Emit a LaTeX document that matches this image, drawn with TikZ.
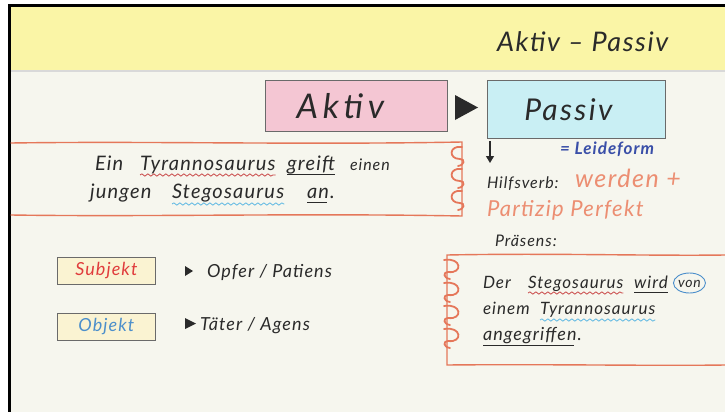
\documentclass[tikz,border=0pt]{standalone}
\usepackage{fontspec}
\newfontfamily\hand{Lato}[LetterSpace=6]
\newfontfamily\handwide{Lato}[LetterSpace=14]
\newfontfamily\handmid{Lato}[LetterSpace=8]
\usetikzlibrary{decorations.pathmorphing,arrows.meta}
\definecolor{bg}{HTML}{F6F6EE}
\definecolor{band}{HTML}{FAF5A6}
\definecolor{pinkbox}{HTML}{F4C6D3}
\definecolor{cyanbox}{HTML}{C9EFF4}
\definecolor{framec}{HTML}{E5775A}
\definecolor{salmon}{HTML}{EC8E72}
\definecolor{leide}{HTML}{3A4FA8}
\definecolor{subjfill}{HTML}{FAF3D2}
\definecolor{subjred}{HTML}{E03C3C}
\definecolor{objblue}{HTML}{4C8FCB}
\definecolor{wavered}{HTML}{C94848}
\definecolor{waveblue}{HTML}{5EB8E2}
\definecolor{ink}{HTML}{2A2A2A}
\tikzset{
  word/.style={font=\hand\itshape\fontsize{20}{20}\selectfont, text=ink, inner sep=0pt, outer sep=0pt, anchor=base west},
  rword/.style={word, font=\hand\itshape\fontsize{17}{17}\selectfont},
  small/.style={word, font=\hand\itshape\fontsize{16}{16}\selectfont},
  bigbox/.style={draw=ink!70, line width=0.8pt, inner sep=0pt, anchor=north west, text=ink},
  tagbox/.style={draw=ink!70, line width=0.8pt, fill=subjfill, minimum width=98pt, minimum height=27pt, inner sep=0pt, anchor=north west, font=\hand\itshape\fontsize{18}{18}\selectfont},
  frameline/.style={draw=framec, line width=1.4pt, line cap=round},
  curl/.style={draw=framec, line width=1.8pt, line cap=round},
  redwave/.style={draw=wavered, line width=0.8pt, decorate, decoration={snake, amplitude=1.1pt, segment length=6pt}},
  bluewave/.style={draw=waveblue, line width=0.8pt, decorate, decoration={snake, amplitude=1.1pt, segment length=6pt}},
  uline/.style={draw=ink, line width=0.9pt},
  marker/.style={fill=ink}
}
\begin{document}
\begin{tikzpicture}[x=1pt,y=-1pt]
\useasboundingbox (0,0) rectangle (725,412);
% background and board frame
\fill[bg] (0,0) rectangle (725,412);
\fill[white] (0,0) rectangle (8,412);
\fill[white] (0,0) rectangle (725,4);
\fill[band] (11,7) rectangle (725,70);
\draw[black!15, line width=2pt] (11,71) -- (725,71);
\fill[black] (8,4) rectangle (11,412);
\fill[black] (8,4) rectangle (725,7);

% title
\node[word, font=\hand\itshape\fontsize{27}{27}\selectfont] (title) at (497,52) {Aktiv – Passiv};

% main boxes
\node[bigbox, fill=pinkbox, minimum width=182pt, minimum height=51pt, font=\handwide\itshape\fontsize{34}{34}\selectfont] (aktiv) at (265,80) {\hspace*{-32pt}Aktiv};
\node[bigbox, fill=cyanbox, minimum width=178pt, minimum height=58pt, font=\handmid\itshape\fontsize{30}{30}\selectfont] (passiv) at (487,80) {\hspace*{-16pt}Passiv};
\fill[marker] (455,95) -- (478,107.5) -- (455,120) -- cycle;

% left framed sentence
\draw[frameline] (11,143) .. controls (150,141) and (300,145) .. (462,142) -- (462,216)
  .. controls (300,213) and (150,217) .. (11,215);
\foreach \yc in {156,178,200}{
  \draw[curl] (462,\yc-9) .. controls (449,\yc-11) and (448,\yc+3) .. (460,\yc+3)
    .. controls (465,\yc+3) and (465,\yc+9) .. (458,\yc+10);
}
\node[word] (e1) at (95,170) {Ein};
\node[word] (e2) at (140,170) {Tyrannosaurus};
\node[word] (e3) at (287,170) {greift};
\node[word, font=\hand\itshape\fontsize{16}{16}\selectfont] (e4) at (350,170) {einen};
\node[word] (e5) at (90,198) {jungen};
\node[word] (e6) at (172,198) {Stegosaurus};
\node[word] (e7) at (307,198) {an.};
\draw[redwave] ([yshift=-5pt]e2.base west) -- ([yshift=-5pt]e2.base east);
\draw[uline] ([yshift=-4pt]e3.base west) -- ([yshift=-4pt]e3.base east);
\draw[bluewave] ([yshift=-6pt]e6.base west) -- ([yshift=-6pt]e6.base east);
\draw[uline] ([yshift=-4pt]e7.base west) -- ([yshift=-4pt,xshift=-8pt]e7.base east);

% right column
\coordinate (dtop) at (490,141);
\coordinate (dbot) at (490,163);
\draw[ink, line width=1.3pt, -{Triangle[length=7pt,width=8pt]}] (dtop) -- (dbot);
\node[small, font=\hand\bfseries\itshape\fontsize{17}{17}\selectfont, text=leide] (leide) at (560,154) {= Leideform};
\node[small] (hilf) at (487,188) {Hilfsverb:};
\node[word, font=\hand\itshape\fontsize{25}{25}\selectfont, text=salmon] (werden) at (575,187) {werden +};
\node[word, font=\hand\itshape\fontsize{22}{22}\selectfont, text=salmon] (partizip) at (487,216) {Partizip Perfekt};
\node[small] (praes) at (495,246) {Präsens:};

% right framed sentence
\draw[frameline] (725,255) .. controls (650,256) and (550,253) .. (447,255) -- (447,365)
  .. controls (550,364) and (650,366) .. (725,365);
\foreach \yc in {269,292,315,338}{
  \draw[curl] (444,\yc-9) .. controls (462,\yc-12) and (463,\yc+5) .. (448,\yc+3)
    .. controls (443,\yc+3) and (443,\yc+9) .. (450,\yc+10);
}
\node[rword] (r1) at (483,288) {Der};
\node[rword] (r2) at (528,288) {Stegosaurus};
\node[rword] (r3) at (634,288) {wird};
\node[rword, font=\hand\itshape\fontsize{14}{14}\selectfont] (r4) at (678,287) {von};
\node[rword] (r5) at (483,314) {einem};
\node[rword] (r6) at (540,314) {Tyrannosaurus};
\node[rword, font=\hand\itshape\fontsize{18}{18}\selectfont] (r7) at (483,340) {angegriffen.};
\draw[redwave] ([yshift=-5pt]r2.base west) -- ([yshift=-5pt]r2.base east);
\draw[uline] ([yshift=-4pt]r3.base west) -- ([yshift=-4pt]r3.base east);
\draw[draw=objblue, line width=0.9pt] ([yshift=4pt]r4.base) ellipse (16pt and 10pt);
\draw[bluewave] ([yshift=-6pt]r6.base west) -- ([yshift=-6pt]r6.base east);
\draw[uline] ([yshift=-5pt]r7.base west) -- ([yshift=-5pt,xshift=-8pt]r7.base east);

% Subjekt / Objekt
\node[tagbox, text=subjred] (subj) at (57,257) {Subjekt};
\node[tagbox, text=objblue] (obj) at (57,313) {Objekt};
\fill[marker] (185,266) -- (193,271) -- (185,276) -- cycle;
\fill[marker] (185,318) -- (196,323.5) -- (185,329) -- cycle;
\node[small, font=\hand\itshape\fontsize{18}{18}\selectfont] (opfer) at (207,277) {Opfer / Patiens};
\node[small, font=\hand\itshape\fontsize{18}{18}\selectfont] (taeter) at (200,330) {Täter / Agens};
\end{tikzpicture}
\end{document}
